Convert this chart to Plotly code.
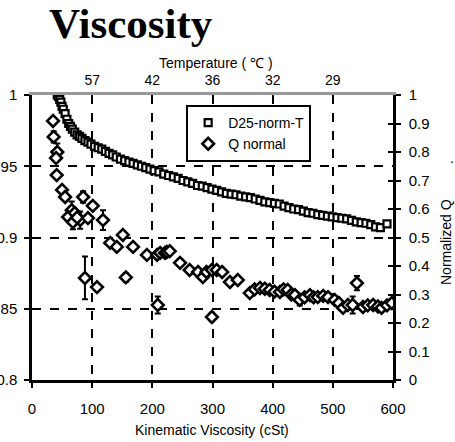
import plotly.graph_objects as go

# ---- data ----
d25_x = [42, 44, 46, 48, 50, 52, 55, 58, 61, 64, 67, 71, 75, 79, 83, 88, 93, 98, 104, 110,
         116, 122, 128, 134, 140, 147, 154, 161, 168, 175, 182, 189, 196, 203, 211, 219, 227,
         235, 243, 251, 259, 267, 275, 283, 291, 299, 307, 315, 323, 331, 339, 347, 355, 363,
         371, 379, 387, 395, 403, 411, 419, 427, 435, 443, 451, 459, 467, 475, 483, 491, 499,
         507, 515, 523, 531, 539, 547, 555, 563, 571, 579, 590]
d25_v = [1.000, 0.999, 0.997, 0.995, 0.992, 0.990, 0.987, 0.983, 0.980, 0.978, 0.976, 0.974,
         0.972, 0.971, 0.9695, 0.968, 0.967, 0.9655, 0.964, 0.963, 0.962, 0.9605, 0.959, 0.958,
         0.9565, 0.955, 0.954, 0.953, 0.952, 0.951, 0.950, 0.949, 0.948, 0.947, 0.946, 0.9445,
         0.9435, 0.9425, 0.9415, 0.940, 0.939, 0.938, 0.9365, 0.936, 0.935, 0.934, 0.933, 0.932,
         0.931, 0.9305, 0.930, 0.929, 0.9285, 0.928, 0.927, 0.926, 0.925, 0.9245, 0.924, 0.9235,
         0.922, 0.921, 0.920, 0.9195, 0.9185, 0.9175, 0.917, 0.916, 0.9155, 0.915, 0.9145, 0.914,
         0.9135, 0.913, 0.912, 0.911, 0.9105, 0.910, 0.909, 0.9075, 0.907, 0.9095]

q_x = [35, 36, 42, 40, 41, 50, 55, 66, 60, 71, 80, 85, 101, 118, 68, 75, 93,
       130, 141, 151, 168, 191, 208, 213, 221, 224, 229, 246, 262, 276, 284, 290, 299, 307,
       316, 329, 342, 362, 370, 379, 387, 395, 403, 412, 418, 425, 431, 437, 445, 453, 462,
       468, 475, 484, 492, 503, 510, 517, 525, 533, 540, 550, 558, 567, 575, 581, 590, 598,
       88, 108, 156, 209, 299]
q_v = [0.909, 0.853, 0.800, 0.779, 0.719, 0.667, 0.642, 0.596, 0.572, 0.586, 0.561, 0.642,
       0.611, 0.561, 0.554, 0.570, 0.568,
       0.481, 0.467, 0.509, 0.467, 0.439, 0.439, 0.446, 0.446, 0.449, 0.452, 0.411, 0.386,
       0.379, 0.361, 0.379, 0.386, 0.386, 0.379, 0.344, 0.351, 0.305, 0.318, 0.323, 0.320,
       0.316, 0.310, 0.309, 0.318, 0.316, 0.300, 0.298, 0.281, 0.290, 0.298, 0.290, 0.291,
       0.295, 0.291, 0.281, 0.270, 0.253, 0.263, 0.263, 0.340, 0.256, 0.262, 0.263, 0.258,
       0.253, 0.262, 0.270,
       0.358, 0.326, 0.360, 0.263, 0.221]
q_err = [0, 0.02, 0.03, 0, 0, 0, 0, 0.03, 0, 0, 0.03, 0.02, 0, 0.035, 0.025, 0, 0,
         0, 0, 0, 0, 0, 0, 0, 0, 0, 0, 0, 0, 0, 0, 0, 0, 0, 0, 0, 0, 0, 0, 0, 0,
         0, 0, 0, 0, 0, 0, 0, 0.02, 0, 0, 0, 0, 0, 0, 0, 0, 0, 0, 0.03, 0.025, 0, 0, 0, 0,
         0, 0, 0,
         0.075, 0, 0.015, 0.03, 0.015]

temp_pos = [100, 200, 300, 400, 500]
temp_labels = ["57", "42", "36", "32", "29"]

FONT = "Arial, Liberation Sans, sans-serif"
W, H = 455, 442
L, R, T, B = 32, 62, 95, 62
PW, PH = W - L - R, H - T - B


def px(xp):
    return (xp - L) / PW


def py(yp):
    return (H - B - yp) / PH


fig = go.Figure()
fig.add_trace(go.Scatter(
    x=d25_x, y=d25_v, mode="markers", name="D25-norm-T",
    marker=dict(symbol="square", size=7, color="white", line=dict(color="black", width=2.2)),
    xaxis="x", yaxis="y"))
fig.add_trace(go.Scatter(
    x=q_x, y=q_v, mode="markers", name="Q normal",
    marker=dict(symbol="diamond", size=9, color="white", line=dict(color="black", width=2.6)),
    error_y=dict(type="data", array=q_err, color="black", thickness=2, width=3),
    xaxis="x", yaxis="y2"))
# dummy traces to activate top/extra axes
fig.add_trace(go.Scatter(x=[None], y=[None], xaxis="x2", yaxis="y", showlegend=False, hoverinfo="skip"))
fig.add_trace(go.Scatter(x=[None], y=[None], xaxis="x", yaxis="y3", showlegend=False, hoverinfo="skip"))

fig.update_layout(
    width=W, height=H,
    margin=dict(l=L, r=R, t=T, b=B, autoexpand=False),
    paper_bgcolor="white", plot_bgcolor="white",
    font=dict(family=FONT, size=14, color="black"),
    showlegend=True,
    legend=dict(x=0.427, y=0.965, xanchor="left", yanchor="top",
                bgcolor="white", bordercolor="black", borderwidth=2,
                font=dict(size=14), itemwidth=30, tracegroupgap=0),
    xaxis=dict(range=[0, 600], tickvals=[0, 100, 200, 300, 400, 500, 600],
               ticks="outside", ticklen=5, tickwidth=2, tickcolor="black",
               showline=True, linecolor="black", linewidth=2.5,
               showgrid=True, gridcolor="black", griddash="dash", gridwidth=1.5,
               zeroline=False, ticklabelstandoff=8, automargin=False,
               tickfont=dict(size=15)),
    xaxis2=dict(range=[0, 600], overlaying="x", side="top", anchor="y",
                tickmode="array", tickvals=temp_pos, ticktext=temp_labels,
                ticks="", showline=True, linecolor="#999999", linewidth=2.5,
                showgrid=False, zeroline=False, ticklabelstandoff=2, automargin=False,
                tickfont=dict(size=14)),
    yaxis=dict(range=[0.8, 1.0], tickmode="array",
               tickvals=[0.8, 0.85, 0.9, 0.95, 1.0],
               ticktext=["0.8", "0.85", "0.9", "0.95", "1"],
               ticks="outside", ticklen=5, tickwidth=2, tickcolor="black",
               showline=True, linecolor="black", linewidth=2.5,
               showgrid=True, gridcolor="black", griddash="dash", gridwidth=1.5,
               zeroline=False, ticklabelstandoff=4, automargin=False,
               tickfont=dict(size=15)),
    yaxis2=dict(range=[0, 1], overlaying="y", side="right", anchor="x",
                tickvals=[0, 0.1, 0.2, 0.3, 0.4, 0.5, 0.6, 0.7, 0.8, 0.9, 1.0],
                ticktext=["0", "0.1", "0.2", "0.3", "0.4", "0.5", "0.6", "0.7", "0.8", "0.9", "1"],
                ticks="outside", ticklen=5, tickwidth=2, tickcolor="black",
                showline=True, linecolor="black", linewidth=2.5,
                showgrid=False, zeroline=False, ticklabelstandoff=5, automargin=False,
                tickfont=dict(size=15)),
    yaxis3=dict(range=[0, 1], overlaying="y", side="right", anchor="x",
                tickvals=[0, 0.1, 0.2, 0.3, 0.4, 0.5, 0.6, 0.7, 0.8, 0.9, 1.0],
                ticks="inside", ticklen=5, tickwidth=2, tickcolor="black", automargin=False,
                showticklabels=False, showline=False, showgrid=False, zeroline=False),
    annotations=[
        dict(text="<b>Viscosity</b>", xref="paper", yref="paper",
             x=px(131), y=py(24), xanchor="center", yanchor="middle",
             showarrow=False, font=dict(family="Times New Roman, Liberation Serif, serif", size=43)),
        dict(text="Temperature ( ℃ )", xref="paper", yref="paper",
             x=px(216), y=py(63), xanchor="center", yanchor="middle",
             showarrow=False, font=dict(size=14)),
        dict(text="Kinematic Viscosity (cSt)", xref="paper", yref="paper",
             x=px(212), y=py(430), xanchor="center", yanchor="middle",
             showarrow=False, font=dict(size=14)),
        dict(text="Normalized Q", xref="paper", yref="paper", textangle=-90,
             x=px(446), y=py(242), xanchor="center", yanchor="middle",
             showarrow=False, font=dict(size=14)),
        dict(text=".", xref="paper", yref="paper", x=px(452), y=py(158),
             xanchor="center", yanchor="middle", showarrow=False, font=dict(size=14)),
    ],
)

fig.write_html("out.html", config={"displayModeBar": False},
               post_script="document.body.style.margin='0';")
